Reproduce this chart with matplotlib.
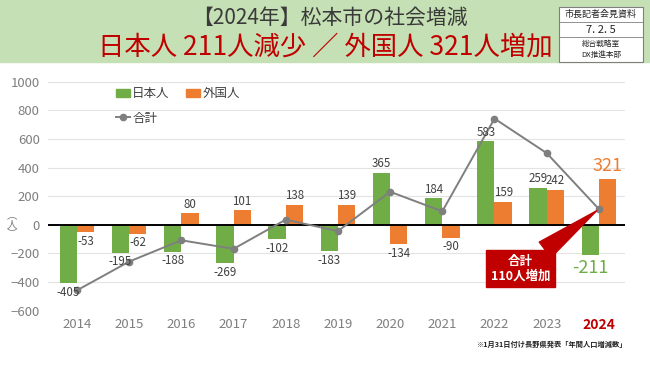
import numpy as np
import matplotlib.pyplot as plt
from matplotlib.patches import Rectangle, Patch
from matplotlib.lines import Line2D

plt.rcParams['font.family'] = ['Noto Sans CJK JP', 'DejaVu Sans']

years = ['2014', '2015', '2016', '2017', '2018', '2019', '2020', '2021', '2022', '2023', '2024']
japanese = [-405, -195, -188, -269, -102, -183, 365, 184, 583, 259, -211]
foreign = [-53, -62, 80, 101, 138, 139, -134, -90, 159, 242, 321]
total = [-458, -257, -108, -168, 36, -44, 231, 94, 742, 501, 110]

GREEN = '#70ad47'
ORANGE = '#ed7d31'
GRAY = '#7f7f7f'
RED = '#c00000'
TXT = '#404040'

fig = plt.figure(figsize=(6.5, 3.65), dpi=100)

# header band
fig.patches.append(Rectangle((0, 0.830), 1, 0.170, transform=fig.transFigure,
                             color='#c5e0b4', zorder=0))
fig.text(0.507, 0.951, '【2024年】松本市の社会増減', ha='center', va='center',
         fontsize=15, color='#3a3a3a')
fig.text(0.5, 0.871, '日本人 211人減少 ／ 外国人 321人増加', ha='center', va='center',
         fontsize=19, color=RED)

# small info box at top right
bx0, bx1 = 0.860, 0.989
rows = [0.981, 0.940, 0.899, 0.830]
fig.patches.append(Rectangle((bx0, rows[3]), bx1 - bx0, rows[0] - rows[3],
                             transform=fig.transFigure, fc='white', ec='#7f7f7f', lw=0.8))
for yy in rows[1:3]:
    fig.add_artist(Line2D([bx0, bx1], [yy, yy], transform=fig.transFigure,
                          color='#7f7f7f', lw=0.6))
bxc = (bx0 + bx1) / 2
fig.text(bxc, 0.960, '市長記者会見資料', ha='center', va='center', fontsize=6.5, color='#222222')
fig.text(bxc, 0.919, '7. 2. 5', ha='center', va='center', fontsize=8, color='#222222')
fig.text(bxc, 0.879, '総合戦略室', ha='center', va='center', fontsize=5.5, color='#222222')
fig.text(bxc, 0.849, 'DX推進本部', ha='center', va='center', fontsize=5.5, color='#222222')

ax = fig.add_axes([0.0738, 0.1488, 0.8877, 0.6274])
x = np.arange(len(years))
w = 0.33
ax.bar(x - w / 2, japanese, w, color=GREEN, zorder=2)
ax.bar(x + w / 2, foreign, w, color=ORANGE, zorder=2)
ax.plot(x, total, color=GRAY, lw=1.4, marker='o', markersize=4.5, zorder=4)

ax.set_xlim(-0.555, 10.5)
ax.set_ylim(-600, 1000)
ax.set_yticks(np.arange(-600, 1001, 200))
ax.grid(axis='y', color='#e3e3e3', lw=0.8, zorder=0)
ax.axhline(0, color='black', lw=1.4, zorder=3)
for s in ax.spines.values():
    s.set_visible(False)
ax.tick_params(axis='both', length=0, labelsize=9.5, colors=GRAY)
ax.tick_params(axis='y', pad=6)
ax.tick_params(axis='x', pad=5)
ax.set_xticks(x)
ax.set_xticklabels(years)
last = ax.get_xticklabels()[-1]
last.set_color(RED)
last.set_fontweight('bold')
last.set_fontsize(10)

# y unit label, vertical, level with the zero line
ax.text(-0.062, 0, '︵\n人\n︶', transform=ax.get_yaxis_transform(), ha='center', va='center',
        fontsize=7.5, color=GRAY, linespacing=0.85)

# data labels
for i in range(len(years) - 1):
    for xi, v in ((x[i] - w / 2, japanese[i]), (x[i] + w / 2, foreign[i])):
        ax.annotate(str(v), (xi, v), xytext=(0, 2 if v > 0 else -2), textcoords='offset points',
                    ha='center', va='bottom' if v > 0 else 'top', fontsize=8.3, color=TXT, zorder=5)
n = len(years) - 1
ax.annotate(str(japanese[n]), (x[n] - w / 2, japanese[n]), xytext=(0, -3),
            textcoords='offset points', ha='center', va='top', fontsize=13, color=GREEN)
ax.annotate(str(foreign[n]), (x[n] + w / 2, foreign[n]), xytext=(0, 3),
            textcoords='offset points', ha='center', va='bottom', fontsize=13, color=ORANGE)

# callout for the 2024 total
ax.annotate('合計\n' + str(total[n]) + '人増加', (x[n], total[n]), xytext=(8.5, -305),
            ha='center', va='center', fontsize=9, color='white', fontweight='bold',
            linespacing=1.15, zorder=6,
            bbox=dict(boxstyle='square,pad=0.35', fc=RED, ec=RED),
            arrowprops=dict(arrowstyle='wedge,tail_width=0.7', fc=RED, ec=RED,
                            mutation_scale=20, shrinkA=0, shrinkB=2))

handles = [Patch(color=GREEN, label='日本人'),
           Line2D([], [], color=GRAY, lw=1.4, marker='o', markersize=4.5, label='合計'),
           Patch(color=ORANGE, label='外国人')]
leg = ax.legend(handles=handles, ncol=2, loc='upper left', bbox_to_anchor=(0.118, 0.975),
                frameon=False, fontsize=9, handlelength=1.1, handletextpad=0.2,
                columnspacing=1.3, labelspacing=0.9, borderpad=0, borderaxespad=0)
for t in leg.get_texts():
    t.set_color(TXT)

fig.text(0.966, 0.057, '※1月31日付け長野県発表「年間人口増減数」', ha='right', va='center',
         fontsize=5.2, color='#222222', fontweight='bold')

fig.savefig('out.png', dpi=100)
